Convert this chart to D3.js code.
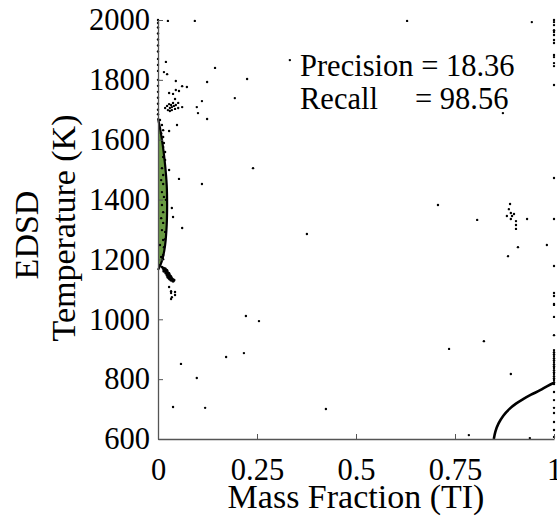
<!DOCTYPE html>
<html><head><meta charset="utf-8">
<script src="https://cdn.jsdelivr.net/npm/d3@7"></script>
<style>
body{margin:0;background:#fff}
svg{display:block}
text{font-family:"Liberation Serif","Times New Roman",serif;fill:#000}
</style>
</head><body>
<svg id="c" width="557" height="519"></svg>
<script>
// ---------- DATA ----------
const xTicks = [0, 0.25, 0.5, 0.75, 1];
const xTickLabels = ["0", "0.25", "0.5", "0.75", "1"];
const yTicks = [600, 800, 1000, 1200, 1400, 1600, 1800, 2000];
const xTitle = "Mass Fraction (TI)";
const yTitle1 = "EDSD";
const yTitle2 = "Temperature (K)";
const precisionLabel = "Precision = 18.36";
const recallName = "Recall";
const recallValue = "= 98.56";

// boundary of the green (true) region near x = 0
const boundaryX = [0, 0.006, 0.012, 0.018, 0.022, 0.023, 0.022, 0.018, 0.012, 0.006, 0];
const boundaryT = [1672, 1632, 1582, 1515, 1449, 1382, 1315, 1248, 1205, 1181, 1165];

// boundary curve at the bottom right
const curve2X = [0.848, 0.852, 0.860, 0.872, 0.887, 0.904, 0.922, 0.942, 0.965, 0.982, 1.0];
const curve2T = [600, 625, 652, 678, 700, 718, 733, 748, 763, 776, 788];

// predicted points (x = mass fraction, T = temperature)
const topPts = [
  [0.025,1997],[0.093,1997],[0.629,1997],[0.944,1993],
  [0.020,1860],[0.144,1840],[0.015,1826],[0.023,1819],[0.225,1803],[0.124,1793],
  [0.045,1796],[0.061,1779],[0.073,1776],[0.053,1763],[0.045,1766],[0.028,1756],
  [0.038,1753],[0.111,1729],[0.194,1739],[0.043,1736],[0.051,1723],[0.061,1709],
  [0.098,1709],[0.101,1689],[0.124,1669],[0.048,1649],[0.028,1629],
  [0.023,1713],[0.028,1719],[0.030,1706],[0.033,1716],[0.035,1709],[0.038,1723],
  [0.040,1713],[0.043,1703],[0.045,1716],[0.025,1699],[0.030,1696],[0.035,1699],
  [0.018,1706],[0.051,1706],[0.333,1866],[0.871,1689]
];
const midPts = [
  [0.240,1505],[0.028,1499],[0.053,1469],[0.111,1452],[0.035,1372],[0.038,1342],
  [0.061,1305],[0.222,1011],[0.255,994],[0.707,1382],[0.376,1285],[0.058,851],
  [0.172,874],[0.217,887],[0.098,804],[0.119,704],[0.038,707],[0.424,700]
];
const rightPts = [
  [0.889,1385],[0.886,1368],[0.891,1355],[0.899,1352],[0.881,1345],[0.894,1345],
  [0.891,1335],[0.904,1328],[0.932,1335],[0.904,1315],[0.904,1302],[0.806,1332],
  [0.909,1241],[0.982,1248],[0.884,1211],[0.823,927],[0.735,901],[0.891,817],
  [0.785,613],[0.939,603]
];
const bandPts = [
  [0.010,1505],[0.013,1482],[0.008,1465],[0.013,1452],[0.010,1425],[0.015,1409],
  [0.020,1399],[0.010,1382],[0.013,1358],[0.008,1338],[0.013,1322],[0.010,1298],
  [0.018,1292],[0.013,1265],[0.018,1268],[0.005,1248],[0.015,1241],[0.013,1215],
  [0.008,1208],[0.013,1201],[0.005,1181],[0.010,1175],
  [0.005,1666],[0.010,1649],[0.005,1639],[0.013,1632],[0.008,1622],[0.013,1609],
  [0.010,1599],[0.015,1589],[0.013,1576],[0.018,1559],[0.013,1542],[0.018,1532]
];
const blobPts = [
  [0.013,1171],[0.015,1168],[0.018,1165],[0.020,1161],[0.015,1161],[0.020,1155],
  [0.023,1158],[0.025,1151],[0.023,1148],[0.028,1148],[0.030,1145],[0.028,1138],
  [0.033,1138],[0.035,1135],[0.033,1131],[0.038,1128],[0.040,1131],[0.018,1168],
  [0.025,1141],[0.030,1135],[0.022,1163],[0.027,1153],[0.032,1142],[0.036,1133]
];
const belowBlobPts = [
  [0.028,1108],[0.033,1094],[0.043,1091],[0.033,1088],[0.043,1081],[0.035,1074],
  [0.033,1068]
];
// points lying on x = 1 and x = 0
const edgeRightT = [2000,1993,1983,1966,1960,1950,1933,1923,1883,1876,1856,1846,1783,1472,
  1335,1178,1088,1078,1051,1048,1008,947,897,890,883,877,870,863,857,850,843,837,830,
  823,817,810,803,797,790,784,757,730,704,687,657,630,607];
const edgeLeftT = [2000,1990,1975,1955,1935,1915,1895,1870,1850,1830,1800,1780,1760,
  1740,1720,1700,1685];

// ---------- CHART ----------
const svg = d3.select('#c');
const x = d3.scaleLinear().domain([0, 1]).range([158, 554]);
const y = d3.scaleLinear().domain([600, 2000]).range([439, 20]);

const bnd = boundaryX.map((v, i) => [v, boundaryT[i]]);
svg.append('path').datum(bnd)
  .attr('d', d3.area().y(d => y(d[1])).x0(x(0)).x1(d => x(d[0])).curve(d3.curveCatmullRom))
  .attr('fill', '#6a9b43');

const allPts = [].concat(topPts, midPts, rightPts, bandPts, belowBlobPts,
  edgeRightT.map(t => [1, t]), edgeLeftT.map(t => [0, t]));
svg.append('g').selectAll('circle').data(allPts).join('circle')
  .attr('cx', d => x(d[0])).attr('cy', d => y(d[1])).attr('r', 1.2).attr('fill', '#000');
svg.append('g').selectAll('circle').data(blobPts).join('circle')
  .attr('cx', d => x(d[0])).attr('cy', d => y(d[1])).attr('r', 1.7).attr('fill', '#000');

const lineGen = d3.line().x(d => x(d[0])).y(d => y(d[1])).curve(d3.curveCatmullRom);
svg.append('path').attr('d', lineGen(bnd))
  .attr('fill', 'none').attr('stroke', '#000').attr('stroke-width', 2.2);
const c2 = curve2X.map((v, i) => [v, curve2T[i]]);
svg.append('path').attr('d', lineGen(c2))
  .attr('fill', 'none').attr('stroke', '#000').attr('stroke-width', 2.6);

// axes
const gy = svg.append('g').attr('transform', `translate(${x(0)},0)`)
  .call(d3.axisLeft(y).tickValues(yTicks).tickFormat(d3.format('d'))
    .tickSize(-5).tickSizeOuter(0).tickPadding(8));
const gx = svg.append('g').attr('transform', `translate(0,${y(600)})`)
  .call(d3.axisBottom(x).tickValues(xTicks).tickFormat((d, i) => xTickLabels[i])
    .tickSize(-5).tickSizeOuter(0).tickPadding(19));
[gx, gy].forEach(g => {
  g.select('.domain').attr('stroke', '#555').attr('stroke-width', 1.3);
  g.selectAll('.tick line').attr('stroke', '#555').attr('stroke-width', 1);
  g.selectAll('.tick text').style('font-family', '"Liberation Serif",serif')
    .style('font-size', '30.5px').attr('fill', '#000');
});

svg.append('text').attr('x', 356).attr('y', 508).attr('text-anchor', 'middle')
  .style('font-size', '34px').text(xTitle);
svg.append('text').attr('transform', 'translate(38,235) rotate(-90)').attr('text-anchor', 'middle')
  .style('font-size', '34px').text(yTitle1);
svg.append('text').attr('transform', 'translate(75,228) rotate(-90)').attr('text-anchor', 'middle')
  .style('font-size', '34px').text(yTitle2);

svg.append('text').attr('x', 300).attr('y', 76).style('font-size', '30.5px').text(precisionLabel);
svg.append('text').attr('x', 300).attr('y', 109).style('font-size', '30.5px').text(recallName);
svg.append('text').attr('x', 415).attr('y', 109).style('font-size', '30.5px').text(recallValue);
</script>
</body></html>
